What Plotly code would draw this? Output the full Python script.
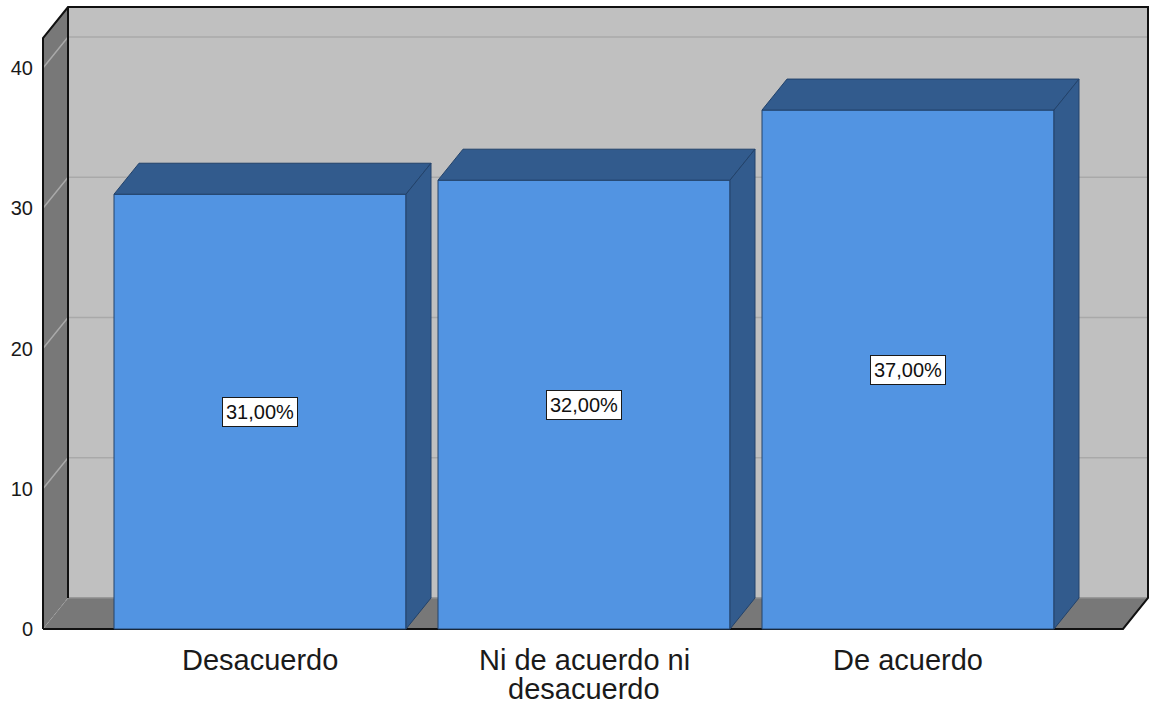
import plotly.graph_objects as go

# Survey response shares (percent)
categories = ["Desacuerdo", "Ni de acuerdo ni\ndesacuerdo", "De acuerdo"]
percentages = [31.0, 32.0, 37.0]
y_ticks = [0, 10, 20, 30, 40]

# Pseudo-3D geometry (data units): depth offset and bar width
PX_PER_CAT = 324.0
PX_PER_UNIT = 14.025
DX = 25 / PX_PER_CAT
DY = 31 / PX_PER_UNIT
BAR_W = 292 / PX_PER_CAT

# Chart box
X_LEFT = (43 - 260) / PX_PER_CAT
X_RIGHT = (1148 - 260) / PX_PER_CAT
WALL_TOP = (629 - 38) / PX_PER_UNIT

FRONT = "#5294E2"
SIDE = "#325B8D"
EDGE = "#22426A"
WALL_BACK = "#C0C0C0"
WALL_DARK = "#787878"
GRID = "#A9A9A9"
FONT = "Liberation Sans, Arial, sans-serif"

# Plot area placement (pixels)
L, R, T, B = 36, 0, 2, 72
W, H = 1150, 707
x_range = [(L - 260) / PX_PER_CAT, (W - R - 260) / PX_PER_CAT]
y_range = [(629 - (H - B)) / PX_PER_UNIT, (629 - T) / PX_PER_UNIT]

fig = go.Figure()

# Front faces of the bars
xs = list(range(len(categories)))
fig.add_trace(go.Bar(
    x=xs, y=percentages, width=BAR_W,
    marker=dict(color=FRONT, line=dict(color=EDGE, width=1)),
    hoverinfo="skip", showlegend=False,
))

# Top and side faces computed from each bar's value
for x, v in zip(xs, percentages):
    xl, xr = x - BAR_W / 2, x + BAR_W / 2
    top_x = [xl, xl + DX, xr + DX, xr, xl]
    top_y = [v, v + DY, v + DY, v, v]
    side_x = [xr, xr + DX, xr + DX, xr, xr]
    side_y = [v, v + DY, DY, 0, v]
    for fx, fy in ((top_x, top_y), (side_x, side_y)):
        fig.add_trace(go.Scatter(
            x=fx, y=fy, mode="lines", fill="toself", fillcolor=SIDE,
            line=dict(color=EDGE, width=1), hoverinfo="skip", showlegend=False,
        ))


def path(points):
    return "M " + " L ".join(f"{px},{py}" for px, py in points)


shapes = []
# Back wall
shapes.append(dict(type="path", path=path([
    (X_LEFT + DX, DY), (X_LEFT + DX, WALL_TOP + DY),
    (X_RIGHT, WALL_TOP + DY), (X_RIGHT, DY)]) + " Z",
    fillcolor=WALL_BACK, line=dict(width=0)))
# Left wall
shapes.append(dict(type="path", path=path([
    (X_LEFT, 0), (X_LEFT, WALL_TOP), (X_LEFT + DX, WALL_TOP + DY),
    (X_LEFT + DX, DY)]) + " Z",
    fillcolor=WALL_DARK, line=dict(width=0)))
# Floor
shapes.append(dict(type="path", path=path([
    (X_LEFT, 0), (X_RIGHT - DX, 0), (X_RIGHT, DY), (X_LEFT + DX, DY)]) + " Z",
    fillcolor=WALL_DARK, line=dict(width=0)))
# Gridlines across left wall and back wall
for v in y_ticks[1:]:
    shapes.append(dict(type="path", path=path([
        (X_LEFT, v), (X_LEFT + DX, v + DY), (X_RIGHT, v + DY)]),
        line=dict(color=GRID, width=1.5)))
shapes.append(dict(type="line", x0=X_LEFT, y0=0, x1=X_LEFT + DX, y1=DY,
                   line=dict(color="#A0A0A0", width=1, dash="dot")))
shapes.append(dict(type="line", x0=X_LEFT + DX, y0=DY, x1=X_RIGHT, y1=DY,
                   line=dict(color="#8C8C8C", width=1.5)))
# Box edges
shapes.append(dict(type="path", path=path([
    (X_LEFT, 0), (X_LEFT, WALL_TOP), (X_LEFT + DX, WALL_TOP + DY),
    (X_RIGHT, WALL_TOP + DY), (X_RIGHT, DY), (X_RIGHT - DX, 0), (X_LEFT, 0)]),
    line=dict(color="#111111", width=2)))
shapes.append(dict(type="path", path=path([
    (X_LEFT + DX, WALL_TOP + DY), (X_LEFT + DX, DY)]),
    line=dict(color="#111111", width=2)))
for s in shapes:
    s.update(xref="x", yref="y", layer="below")

annotations = []
# Value labels in the middle of each bar
for x, v in zip(xs, percentages):
    annotations.append(dict(
        x=x, y=v / 2, xref="x", yref="y",
        text=f"{v:.2f}".replace(".", ",") + "%", showarrow=False,
        font=dict(family=FONT, size=20, color="#111111"),
        bgcolor="white", bordercolor="#1A1A1A", borderwidth=1, borderpad=3,
    ))
# Category labels under the floor, one annotation per text line
for x, name in zip(xs, categories):
    for i, line in enumerate(name.split("\n")):
        annotations.append(dict(
            x=x, y=0, xref="x", yref="y", yshift=-(31 + 29 * i),
            text=line, showarrow=False, yanchor="middle",
            font=dict(family=FONT, size=29, color="#1A1A1A"),
        ))

fig.update_layout(
    width=W, height=H,
    margin=dict(l=L, r=R, t=T, b=B, pad=0),
    paper_bgcolor="white", plot_bgcolor="white",
    shapes=shapes, annotations=annotations,
    showlegend=False,
    xaxis=dict(range=x_range, showgrid=False, zeroline=False, showline=False,
               showticklabels=False, ticks="", fixedrange=True),
    yaxis=dict(range=y_range, tickvals=y_ticks, showgrid=False, zeroline=False,
               showline=False, ticks="", ticklabelstandoff=2,
               tickfont=dict(family=FONT, size=20, color="#1A1A1A"),
               fixedrange=True),
    font=dict(family=FONT),
)

fig.write_html("out.html", config={"displayModeBar": False})
